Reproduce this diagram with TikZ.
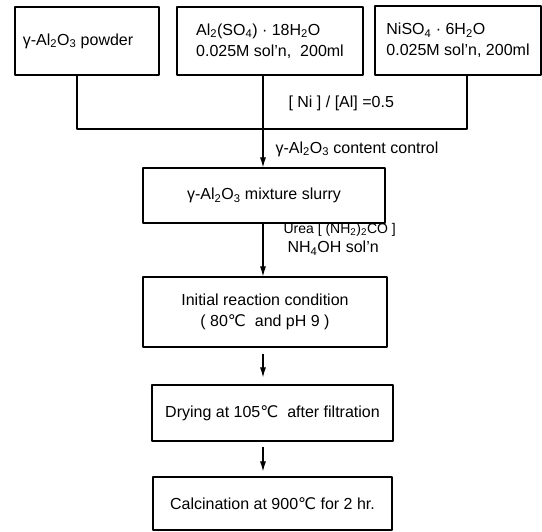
\documentclass[tikz,border=0pt]{standalone}
\usepackage{fontspec}
\setmainfont{Liberation Sans}
\newfontfamily\symfont{DejaVu Sans}
\usetikzlibrary{arrows.meta}
\newcommand{\degC}{{\symfont ℃}}
\newcommand{\chsub}[1]{\textsubscript{#1}}
\begin{document}
\begin{tikzpicture}[x=1pt, y=-1pt, font=\fontsize{16}{21}\selectfont, line width=1.1pt, line join=round, >={Latex[length=10pt,width=6pt]},
	box/.style={draw, align=center, inner sep=0pt},
	note/.style={anchor=west, inner sep=0pt}]
	\useasboundingbox (0,0) rectangle (542,532);
	% starting materials
	\node[box, minimum width=144pt, minimum height=68pt] (powder) at (87,41) {\kern-18pt γ-Al\chsub{2}O\chsub{3} powder};
	\node[box, minimum width=186pt, minimum height=68pt, align=left] (alsulf) at (270,41) {Al\chsub{2}(SO\chsub{4}) · 18H\chsub{2}O\\0.025M sol'n,\ \ 200ml};
	\node[box, minimum width=166pt, minimum height=69pt, align=left] (niso) at (458,40.5) {NiSO\chsub{4} · 6H\chsub{2}O\\0.025M sol'n, 200ml};
	% process steps
	\node[box, minimum width=242pt, minimum height=55pt] (slurry) at (264,195.5) {γ-Al\chsub{2}O\chsub{3} mixture slurry};
	\node[box, minimum width=244pt, minimum height=70pt] (react) at (265,312) {Initial reaction condition\\( 80\degC\ \ and pH 9 )};
	\node[box, minimum width=241pt, minimum height=56pt] (dry) at (272.5,413) {Drying at 105\degC\ \ after filtration};
	\node[box, minimum width=239pt, minimum height=53pt] (calc) at (272.5,503.5) {Calcination at 900\degC\ for 2 hr.};
	\path (263,0) coordinate (axis)
		(0,129) coordinate (merge);
	% joining lines
	\draw (powder.south -| 77,0) |- (merge -| 467,0) -- (niso.south -| 467,0);
	\draw[->] (alsulf.south -| axis) -- (slurry.north -| axis);
	\draw[->] (slurry.south -| axis) -- (react.north -| axis);
	\draw[->, shorten <=6pt, shorten >=7pt] (react.south -| axis) -- (dry.north -| axis);
	\draw[->, shorten <=5pt, shorten >=5pt] (dry.south -| axis) -- (calc.north -| axis);
	% side notes
	\node[note] (ratio) at (288,103) {[ Ni ] / [Al] =0.5};
	\node[note] (content) at (275,149) {γ-Al\chsub{2}O\chsub{3} content control};
	\node[note, font=\fontsize{14}{16}\selectfont] (urea) at (283,230) {Urea [ (NH\chsub{2})\chsub{2}CO ]};
	\node[note] (ammonia) at (287,248) {NH\chsub{4}OH sol'n};
\end{tikzpicture}
\end{document}
